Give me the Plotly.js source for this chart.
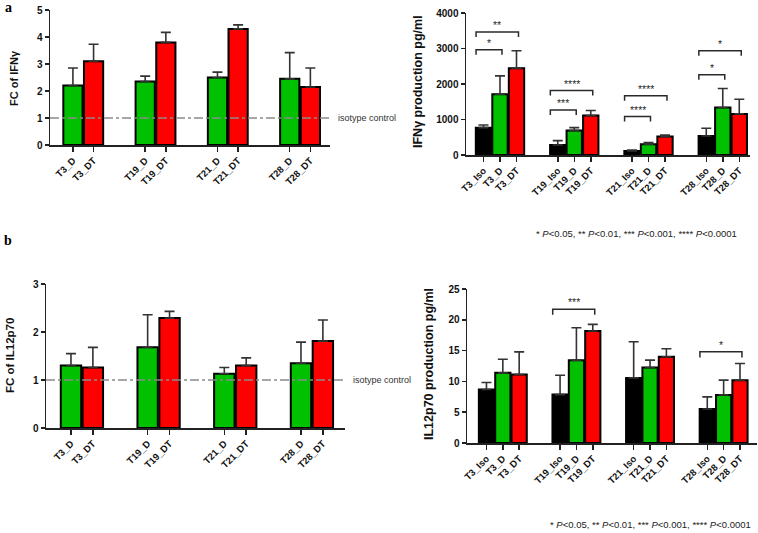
<!DOCTYPE html>
<html><head><meta charset="utf-8">
<script src="https://cdn.plot.ly/plotly-3.0.1.min.js"></script>
<style>html,body{margin:0;padding:0;background:#fff}#chart{width:758px;height:533px}</style>
</head><body><div id="chart"></div>
<script>
// ---------- DATA ----------
const groups = ['T3', 'T19', 'T21', 'T28'];

// Panel a (left): fold change of IFNγ
const fcIfngD = [2.2, 2.35, 2.5, 2.45];
const fcIfngDsd = [0.65, 0.2, 0.2, 0.97];
const fcIfngDT = [3.1, 3.8, 4.3, 2.15];
const fcIfngDTsd = [0.63, 0.37, 0.15, 0.7];

// Panel a (right): IFNγ production pg/ml
const ifngIso = [770, 282, 113, 536];
const ifngIsoSd = [77, 123, 28, 217];
const ifngD = [1713, 687, 301, 1336];
const ifngDsd = [517, 85, 47, 537];
const ifngDT = [2447, 1110, 518, 1158];
const ifngDTsd = [489, 142, 47, 414];

// Significance for panel a (right)
const sigAGroup = [0, 0, 1, 1, 2, 2, 3, 3];
const sigATarget = [1, 2, 1, 2, 1, 2, 1, 2];
const sigAHeight = [2965, 3464, 1270, 1816, 1082, 1666, 2259, 2936];
const sigALabel = ['*', '**', '***', '****', '****', '****', '*', '*'];

// Panel b (left): fold change of IL12p70
const fcIl12D = [1.30, 1.68, 1.13, 1.35];
const fcIl12Dsd = [0.25, 0.68, 0.13, 0.44];
const fcIl12DT = [1.26, 2.29, 1.30, 1.81];
const fcIl12DTsd = [0.42, 0.14, 0.16, 0.44];

// Panel b (right): IL12p70 production pg/ml
const il12Iso = [8.68, 7.86, 10.57, 5.53];
const il12IsoSd = [1.14, 3.14, 5.86, 1.95];
const il12D = [11.39, 13.45, 12.26, 7.81];
const il12Dsd = [2.21, 5.25, 1.19, 2.39];
const il12DT = [11.12, 18.17, 13.99, 10.2];
const il12DTsd = [3.68, 1.08, 1.31, 2.7];

const sigBGroup = [1, 3];
const sigBTarget = [2, 2];
const sigBHeight = [21.7, 14.8];
const sigBLabel = ['***', '*'];

// y tick labels
const fcIfngTicks = [0, 1, 2, 3, 4, 5];
const ifngTicks = [0, 1000, 2000, 3000, 4000];
const fcIl12Ticks = [0, 1, 2, 3];
const il12Ticks = [0, 5, 10, 15, 20, 25];

const isotypeLevel = 1;
const footnote = '* <i>P</i>&lt;0.05, ** <i>P</i>&lt;0.01, *** <i>P</i>&lt;0.001, **** <i>P</i>&lt;0.0001';

// ---------- STYLE ----------
const W = 758, H = 533;
const GREEN = '#00c000', RED = '#ff0000', BLACK = '#000000';
const FONT = 'Liberation Sans, Arial, sans-serif';
const AXC = '#222222';

function px(x) { return x / W; }
function py(y) { return (H - y) / H; }

const FC_STEP = 3.5, PROD_STEP = 4.5;
function pos(step, n) {
  const out = [];
  for (let g = 0; g < groups.length; g++) for (let j = 0; j < n; j++) out.push(g * step + j);
  return out;
}
function posOf(step, j) { return groups.map((_, g) => g * step + j); }

function barTrace(xs, ys, sd, color, xa, ya) {
  return {
    type: 'bar', x: xs, y: ys, width: 0.93, xaxis: xa, yaxis: ya,
    marker: { color: color, line: { color: '#000000', width: 2 } },
    error_y: { type: 'data', symmetric: false, array: sd, arrayminus: sd.map(() => 0),
      color: '#333333', thickness: 1.6, width: 5 },
    showlegend: false, hoverinfo: 'skip'
  };
}

const traces = [
  barTrace(posOf(FC_STEP, 0), fcIfngD, fcIfngDsd, GREEN, 'x', 'y'),
  barTrace(posOf(FC_STEP, 1), fcIfngDT, fcIfngDTsd, RED, 'x', 'y'),
  barTrace(posOf(PROD_STEP, 0), ifngIso, ifngIsoSd, BLACK, 'x2', 'y2'),
  barTrace(posOf(PROD_STEP, 1), ifngD, ifngDsd, GREEN, 'x2', 'y2'),
  barTrace(posOf(PROD_STEP, 2), ifngDT, ifngDTsd, RED, 'x2', 'y2'),
  barTrace(posOf(FC_STEP, 0), fcIl12D, fcIl12Dsd, GREEN, 'x3', 'y3'),
  barTrace(posOf(FC_STEP, 1), fcIl12DT, fcIl12DTsd, RED, 'x3', 'y3'),
  barTrace(posOf(PROD_STEP, 0), il12Iso, il12IsoSd, BLACK, 'x4', 'y4'),
  barTrace(posOf(PROD_STEP, 1), il12D, il12Dsd, GREEN, 'x4', 'y4'),
  barTrace(posOf(PROD_STEP, 2), il12DT, il12DTsd, RED, 'x4', 'y4'),
];

const fcLabels = [];
groups.forEach(g => { fcLabels.push('<b>' + g + '_D</b>'); fcLabels.push('<b>' + g + '_DT</b>'); });
const prodLabels = [];
groups.forEach(g => { prodLabels.push('<b>' + g + '_Iso</b>'); prodLabels.push('<b>' + g + '_D</b>'); prodLabels.push('<b>' + g + '_DT</b>'); });

function xAxis(domain, range, tickvals, ticktext, anchor) {
  return {
    domain: domain, range: range, anchor: anchor,
    tickmode: 'array', tickvals: tickvals, ticktext: ticktext, tickangle: -45,
    ticks: 'outside', ticklen: 5, tickwidth: 1.5, tickcolor: AXC,
    showline: true, linecolor: AXC, linewidth: 1.5,
    showgrid: false, zeroline: false, fixedrange: true,
    tickfont: { family: FONT, size: 9.5, color: '#111111', weight: 700 }
  };
}
function yAxis(domain, range, ticks, anchor) {
  return {
    domain: domain, range: range, anchor: anchor,
    tickmode: 'array', tickvals: ticks, ticktext: ticks.map(t => '<b>' + t + '</b>'),
    ticks: 'outside', ticklen: 4, tickwidth: 1.5, tickcolor: AXC,
    showline: true, linecolor: AXC, linewidth: 1.5,
    showgrid: false, zeroline: false, fixedrange: true,
    tickfont: { family: FONT, size: 10, color: '#111111', weight: 700 }
  };
}

const layout = {
  width: W, height: H,
  margin: { l: 0, r: 0, t: 0, b: 0 },
  paper_bgcolor: '#ffffff', plot_bgcolor: 'rgba(0,0,0,0)',
  bargap: 0, showlegend: false,
  xaxis: xAxis([px(50), px(330)], [-1.11, 12.45], pos(FC_STEP, 2), fcLabels, 'y'),
  yaxis: yAxis([py(145), py(10)], [0, 5], fcIfngTicks, 'x'),
  xaxis2: xAxis([px(466), px(750)], [-1.06, 16.15], pos(PROD_STEP, 3), prodLabels, 'y2'),
  yaxis2: yAxis([py(155), py(13)], [0, 4000], ifngTicks, 'x2'),
  xaxis3: xAxis([px(46), px(345)], [-1.14, 12.51], pos(FC_STEP, 2), fcLabels, 'y3'),
  yaxis3: yAxis([py(428), py(284)], [0, 3], fcIl12Ticks, 'x3'),
  xaxis4: xAxis([px(467), px(757)], [-1.19, 16.54], pos(PROD_STEP, 3), prodLabels, 'y4'),
  yaxis4: yAxis([py(443), py(289)], [0, 25], il12Ticks, 'x4'),
  shapes: [], annotations: []
};

// isotype control lines
layout.shapes.push({ type: 'line', xref: 'x', yref: 'y', x0: -1.11, x1: 12.6, y0: isotypeLevel, y1: isotypeLevel,
  line: { color: '#8a8a8a', width: 1.5, dash: 'dashdot' }, layer: 'above' });
layout.shapes.push({ type: 'line', xref: 'x3', yref: 'y3', x0: -1.14, x1: 12.51, y0: isotypeLevel, y1: isotypeLevel,
  line: { color: '#8a8a8a', width: 1.5, dash: 'dashdot' }, layer: 'above' });
layout.annotations.push({ xref: 'paper', yref: 'y', x: px(336), y: isotypeLevel, xanchor: 'left', yanchor: 'middle',
  text: 'isotype control', showarrow: false, font: { family: FONT, size: 9, color: '#333333' } });
layout.annotations.push({ xref: 'paper', yref: 'y3', x: px(351), y: isotypeLevel, xanchor: 'left', yanchor: 'middle',
  text: 'isotype control', showarrow: false, font: { family: FONT, size: 9, color: '#333333' } });

// significance brackets
function addBrackets(gArr, tArr, hArr, lArr, drop, xa, ya) {
  for (let i = 0; i < gArr.length; i++) {
    const x0 = gArr[i] * PROD_STEP - 0.45;
    const x1 = gArr[i] * PROD_STEP + tArr[i] + 0.12;
    const h = hArr[i], d = h - drop;
    layout.shapes.push({ type: 'path', xref: xa, yref: ya,
      path: `M ${x0} ${d} L ${x0} ${h} L ${x1} ${h} L ${x1} ${d}`,
      fillcolor: 'rgba(0,0,0,0)',
      line: { color: '#2a2a2a', width: 1.5 } });
    layout.annotations.push({ xref: xa, yref: ya, x: (x0 + x1) / 2, y: h, yanchor: 'bottom', xanchor: 'center',
      yshift: -1, text: lArr[i], showarrow: false, font: { family: FONT, size: 10.5, color: '#2a2a2a' } });
  }
}
addBrackets(sigAGroup, sigATarget, sigAHeight, sigALabel, 140, 'x2', 'y2');
addBrackets(sigBGroup, sigBTarget, sigBHeight, sigBLabel, 0.9, 'x4', 'y4');

// axis titles
function yTitle(text, x, y, size) {
  layout.annotations.push({ xref: 'paper', yref: 'paper', x: px(x), y: py(y), xanchor: 'center', yanchor: 'middle',
    textangle: -90, text: '<b>' + text + '</b>', showarrow: false, font: { family: FONT, size: size, color: '#111111' } });
}
yTitle('FC of IFNγ', 14, 78, 11);
yTitle('IFNγ production pg/ml', 418, 82, 12.5);
yTitle('FC of IL12p70', 10, 356, 11.5);
yTitle('IL12p70 production pg/ml', 429, 364, 12.5);

// panel letters
layout.annotations.push({ xref: 'paper', yref: 'paper', x: px(3), y: py(8), xanchor: 'left', yanchor: 'middle',
  text: '<b>a</b>', showarrow: false, font: { family: 'Liberation Serif, Times New Roman, serif', size: 14, color: '#000000' } });
layout.annotations.push({ xref: 'paper', yref: 'paper', x: px(2), y: py(240), xanchor: 'left', yanchor: 'middle',
  text: '<b>b</b>', showarrow: false, font: { family: 'Liberation Serif, Times New Roman, serif', size: 14, color: '#000000' } });

// footnotes
layout.annotations.push({ xref: 'paper', yref: 'paper', x: px(739), y: py(234), xanchor: 'right', yanchor: 'middle',
  text: footnote, showarrow: false, font: { family: FONT, size: 9.5, color: '#222222' } });
layout.annotations.push({ xref: 'paper', yref: 'paper', x: px(753), y: py(524), xanchor: 'right', yanchor: 'middle',
  text: footnote, showarrow: false, font: { family: FONT, size: 9.5, color: '#222222' } });

Plotly.newPlot('chart', traces, layout, { staticPlot: true, displayModeBar: false });
</script>
</body></html>
